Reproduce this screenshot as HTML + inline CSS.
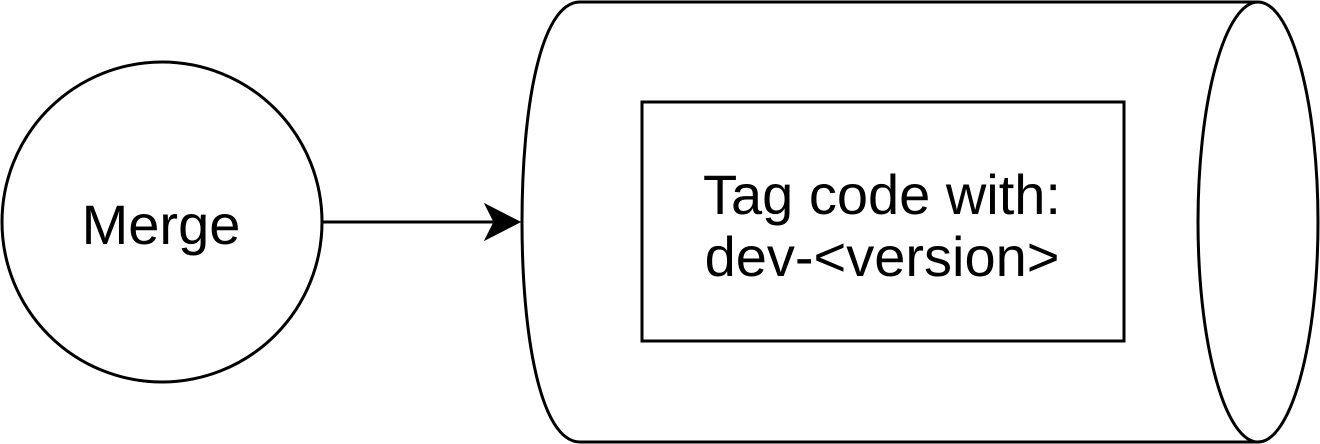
<!DOCTYPE html>
<html><head><style>html,body{margin:0;padding:0;background:#fff}svg{display:block}</style></head>
<body>
<svg width="1320" height="444" viewBox="0 0 1320 444" xmlns="http://www.w3.org/2000/svg">
<g fill="none" stroke="#000" stroke-width="3">
<circle cx="162" cy="222" r="160" fill="#fff"/>
<line x1="322" y1="222" x2="500" y2="222"/>
<path d="M580,2 C540,2 522,110 522,222 C522,334 540,442 580,442 L1258,442 M580,2 L1258,2" fill="#fff"/>
<ellipse cx="1258" cy="222" rx="60" ry="220" fill="#fff"/>
<rect x="642" y="102" width="482" height="239" fill="#fff"/>
</g>
<path d="M520,222 L485,204 L494,222 L485,240 Z" fill="#000" stroke="#000" stroke-width="1"/>
<g font-family="Liberation Sans, Arial, sans-serif" font-size="56" text-anchor="middle" fill="#000">
<text x="161" y="244">Merge</text>
<text x="882" y="214">Tag code with:</text>
<text x="882" y="276">dev-&lt;version&gt;</text>
</g>
</svg>
</body></html>
